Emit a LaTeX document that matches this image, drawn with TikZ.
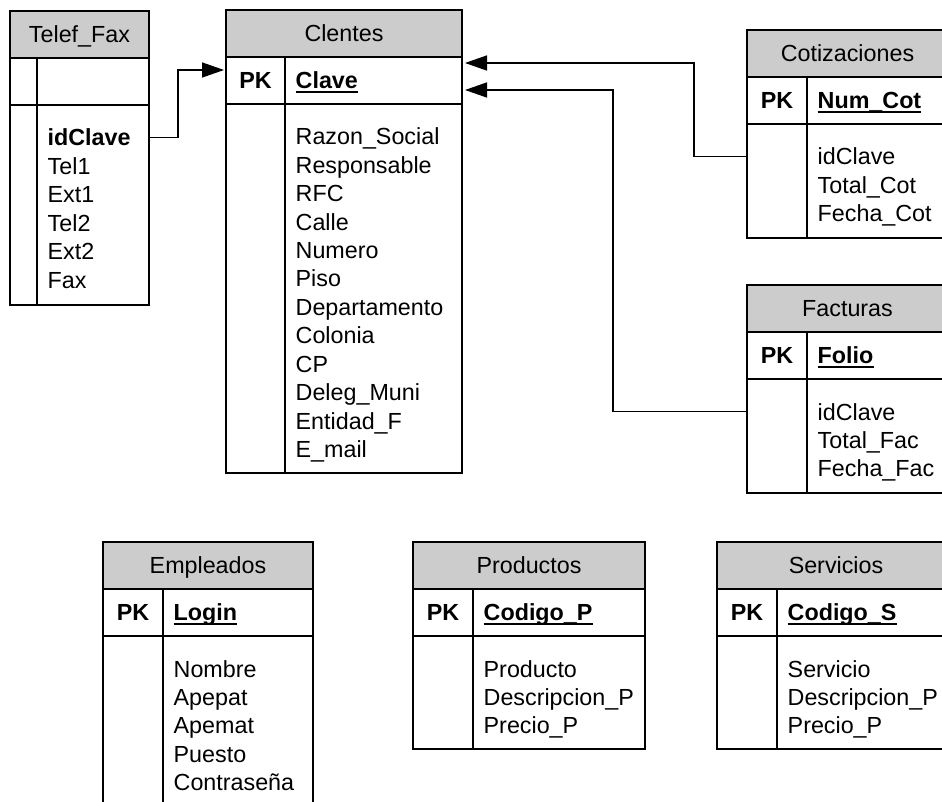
\documentclass[tikz,border=0pt]{standalone}
\usepackage{fontspec}
\newfontfamily\tabfont{Liberation Sans}
\usetikzlibrary{arrows.meta}
\definecolor{hdrgray}{RGB}{204,204,204}
\newcommand\erfont{\tabfont\fontsize{23.3pt}{28.4pt}\selectfont}

\tikzset{
  frame/.style={draw=black, line width=1.5pt},
  cellbox/.style={frame, inner sep=0pt, outer sep=0pt, anchor=north west},
  hdrbox/.style={cellbox, fill=hdrgray, minimum height=47pt, font=\erfont,
                 text height=21.5pt, text depth=5pt},
  pkbox/.style={cellbox, minimum height=47pt},
  bodybox/.style={cellbox},
  pktext/.style={inner sep=0pt, font=\erfont\bfseries, text height=21.5pt, text depth=5pt},
  keytext/.style={inner sep=0pt, anchor=west, font=\erfont\bfseries, text height=21.5pt, text depth=5pt},
  attrtext/.style={inner sep=0pt, anchor=base west, font=\erfont, text height=21.5pt, text depth=5pt},
  keyline/.style={line width=1.7pt},
  fk/.style={draw=black, line width=1.4pt, -{Triangle[length=22pt,width=15pt]}},
}

% #1 name, #2 left, #3 top, #4 right, #5 bottom, #6 width of the PK column, #7 title
\newcommand\ertable[7]{%
  \node[hdrbox, minimum width=#4pt-#2pt] (#1-h) at (#2,#3) {#7};
  \node[pkbox, minimum width=#4pt-#2pt] (#1-pk) at (#1-h.south west) {};
  \node[bodybox, minimum width=#4pt-#2pt, minimum height=#5pt-#3pt-94pt] (#1-b) at (#1-pk.south west) {};
  \draw[frame] ([xshift=#6pt]#1-pk.north west) -- ([xshift=#6pt]#1-b.south west);
}
% primary key row: #1 name, #2 width of the PK column, #3 key field
\newcommand\erkey[3]{%
  \node[pktext] (#1-pkl) at ([xshift={#2pt/2}]#1-pk.west) {PK};
  \node[keytext] (#1-key) at ([xshift={#2pt+10.5pt}]#1-pk.west) {#3};
  \draw[keyline] ([yshift=-3.5pt]#1-key.base west) -- ([yshift=-3.5pt]#1-key.base east);
}
% attribute list: #1 name, #2 width of the PK column, #3 fields
\newcommand\erattrs[3]{%
  \foreach \fieldname [count=\k] in {#3}
    \node[attrtext] (#1-a\k) at ([xshift={#2pt+10.5pt}, yshift={-41pt-(\k-1)*28.4pt}]#1-b.north west) {\fieldname};
}

\begin{document}
\begin{tikzpicture}[x=1pt, y=-1pt]
  \useasboundingbox (0,0) rectangle (942,802);
  \clip (0,0) rectangle (942,802);

  % Telef_Fax
  \ertable{tf}{10}{11}{149}{305}{27}{Telef\_Fax}
  \erattrs{tf}{27}{{\textbf{idClave}}, Tel1, Ext1, Tel2, Ext2, Fax}

  % Clentes
  \ertable{cl}{226}{10}{462}{473}{59}{Clentes}
  \erkey{cl}{59}{Clave}
  \erattrs{cl}{59}{Razon\_Social, Responsable, RFC, Calle, Numero, Piso,
    Departamento, Colonia, CP, Deleg\_Muni, Entidad\_F, E\_mail}

  % Cotizaciones
  \ertable{co}{747}{30}{948}{238}{60}{Cotizaciones}
  \erkey{co}{60}{Num\_Cot}
  \erattrs{co}{60}{idClave, Total\_Cot, Fecha\_Cot}

  % Facturas
  \ertable{fa}{747}{285}{948}{493}{60}{Facturas}
  \erkey{fa}{60}{Folio}
  \erattrs{fa}{60}{idClave, Total\_Fac, Fecha\_Fac}

  % Empleados
  \ertable{em}{103}{542}{313}{830}{60}{Empleados}
  \erkey{em}{60}{Login}
  \erattrs{em}{60}{Nombre, Apepat, Apemat, Puesto, Contraseña}

  % Productos
  \ertable{pr}{413}{542}{645}{749}{60}{Productos}
  \erkey{pr}{60}{Codigo\_P}
  \erattrs{pr}{60}{Producto, Descripcion\_P, Precio\_P}

  % Servicios
  \ertable{se}{717}{542}{955}{749}{60}{Servicios}
  \erkey{se}{60}{Codigo\_S}
  \erattrs{se}{60}{Servicio, Descripcion\_P, Precio\_P}

  % foreign keys pointing at Clentes.Clave
  \coordinate (tf-fk) at (tf-b.east |- tf-a1.center);
  \coordinate (co-fk) at (co-b.west |- co-a1.center);
  \coordinate (fa-fk) at (fa-b.west |- fa-a1.center);
  \coordinate (cl-inL) at ([xshift=-2pt, yshift=10.5pt]cl-pk.west);
  \coordinate (cl-inR1) at ([xshift=3pt, yshift=17.5pt]cl-pk.east);
  \coordinate (cl-inR2) at ([xshift=3pt, yshift=-9.5pt]cl-pk.east);

  \draw[fk] (tf-fk) -- ++(29,0) |- (cl-inL);
  \draw[fk] (co-fk) -- ++(-53,0) |- (cl-inR1);
  \draw[fk] (fa-fk) -- ++(-134,0) |- (cl-inR2);
\end{tikzpicture}
\end{document}
